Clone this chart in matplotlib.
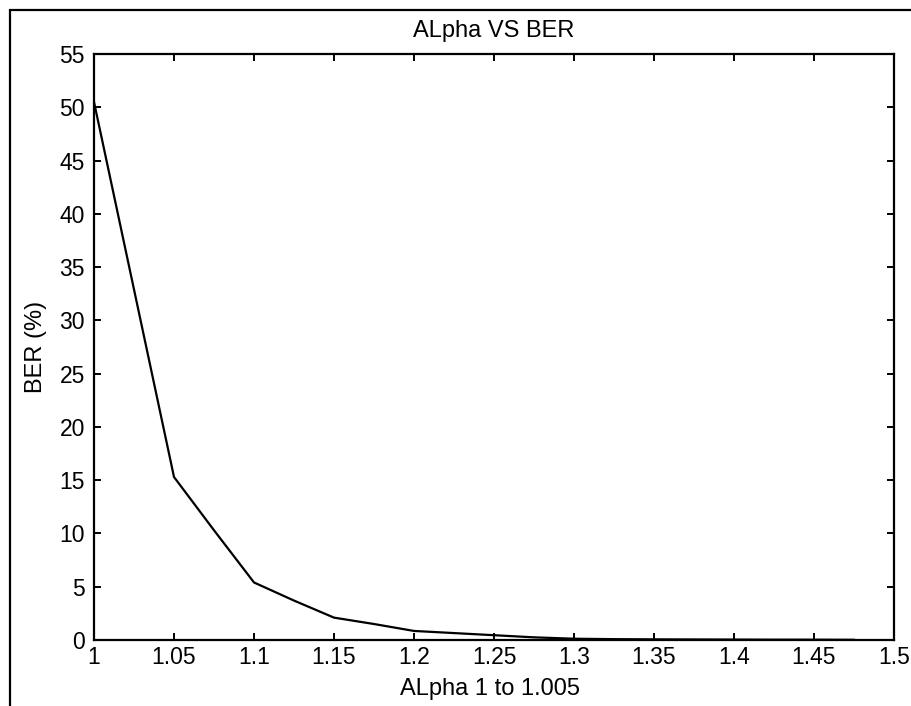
import matplotlib
matplotlib.use("Agg")
import matplotlib.pyplot as plt
from matplotlib.patches import Rectangle

# Scaling factor alpha and the resulting bit error rate (%)
alpha = [1.000, 1.025, 1.050, 1.075, 1.100, 1.125, 1.150, 1.175, 1.200, 1.225,
         1.250, 1.275, 1.300, 1.325, 1.350, 1.375, 1.400, 1.425, 1.450, 1.475]
ber = [50.5, 32.9, 15.3, 10.3, 5.4, 3.7, 2.1, 1.5, 0.85, 0.65,
       0.45, 0.25, 0.12, 0.08, 0.06, 0.05, 0.04, 0.03, 0.03, 0.02]

x_ticks = [1, 1.05, 1.1, 1.15, 1.2, 1.25, 1.3, 1.35, 1.4, 1.45, 1.5]
x_tick_labels = ["1", "1.05", "1.1", "1.15", "1.2", "1.25", "1.3", "1.35", "1.4", "1.45", "1.5"]
y_ticks = list(range(0, 56, 5))

plt.rcParams["font.family"] = ["Liberation Sans", "DejaVu Sans"]

W, H = 912, 706
fig = plt.figure(figsize=(W / 100, H / 100), dpi=100)
fig.patch.set_facecolor("white")

# frame around the figure
fig.patches.append(Rectangle((10 / W, -0.05), 1.2, 1 - 10 / H + 0.05,
                             transform=fig.transFigure, fill=False,
                             edgecolor="black", linewidth=1.6))

ax = fig.add_axes([94 / W, (H - 640) / H, 800 / W, 586 / H])
ax.plot(alpha, ber, color="black", linewidth=1.6)

ax.set_xlim(1, 1.5)
ax.set_ylim(0, 55)
ax.set_xticks(x_ticks)
ax.set_xticklabels(x_tick_labels)
ax.set_yticks(y_ticks)

for s in ax.spines.values():
    s.set_linewidth(1.6)
    s.set_color("black")

ax.tick_params(axis="both", direction="in", length=5, width=1.4,
               top=True, right=True, labelsize=16.5, colors="black")
ax.tick_params(axis="x", pad=4)
ax.tick_params(axis="y", pad=6.5)

ax.set_title("ALpha VS BER", fontsize=17, pad=12)
ax.set_xlabel("ALpha 1 to 1.005", fontsize=17, va="baseline")
ax.xaxis.set_label_coords(0.495, -0.094)
ax.set_ylabel("BER (%)", fontsize=17, va="center")
ax.yaxis.set_label_coords(-0.073, 0.5)

fig.savefig("out.png", dpi=100)
